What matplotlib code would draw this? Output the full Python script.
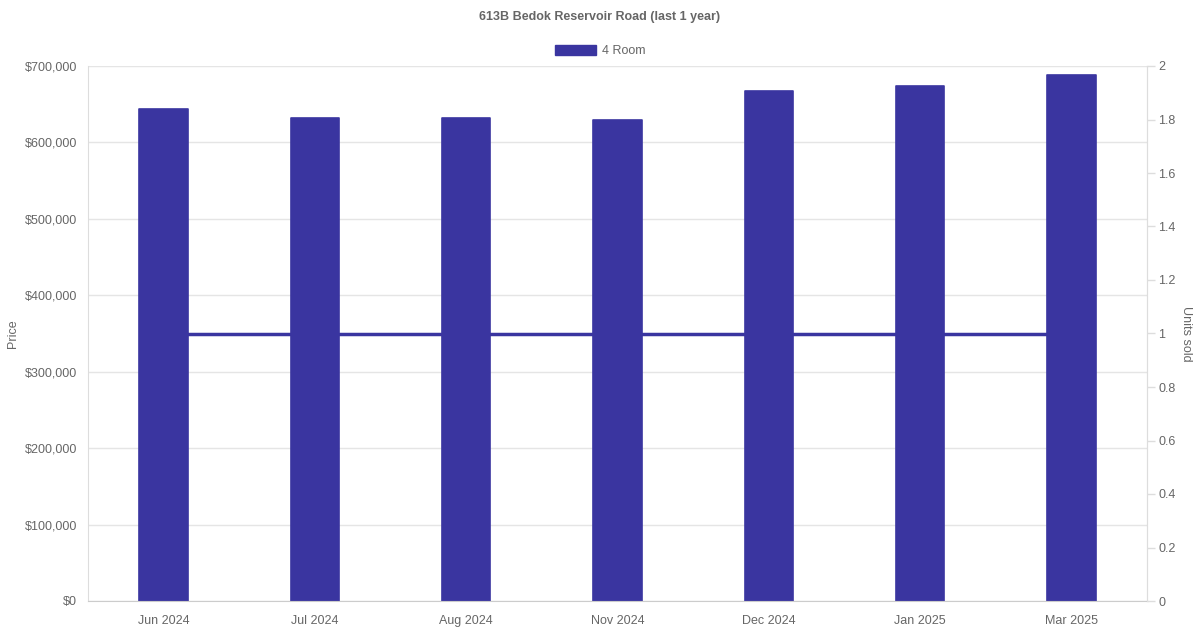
import matplotlib
matplotlib.use("Agg")
import matplotlib.pyplot as plt
from matplotlib.ticker import FuncFormatter, MultipleLocator
from matplotlib.patches import Patch

plt.rcParams['font.family'] = ['Liberation Sans', 'DejaVu Sans']

months = ["Jun 2024", "Jul 2024", "Aug 2024", "Nov 2024", "Dec 2024", "Jan 2025", "Mar 2025"]
prices = [644000, 632000, 632000, 629000, 667000, 674000, 688000]
units = [1, 1, 1, 1, 1, 1, 1]

color = "#3a35a0"
grey = "#666666"
grid = "#e5e5e5"

fig = plt.figure(figsize=(12, 6.3), dpi=100)
ax = fig.add_axes([88/1200, 1 - 601/630, (1147-88)/1200, (601-66)/630])
x = list(range(len(months)))
ax.bar(x, prices, width=0.32, color=color, edgecolor=color, linewidth=1.2,
       joinstyle='round', zorder=2)
ax.set_xlim(-0.5, len(months) - 0.5)
ax.set_ylim(0, 700000)
ax.yaxis.set_major_locator(MultipleLocator(100000))
ax.yaxis.set_major_formatter(FuncFormatter(lambda v, p: f"${v:,.0f}"))
ax.set_xticks(x)
ax.set_xticklabels(months)
ax.grid(axis='y', color=grid, linewidth=1, zorder=0)
for s in ['top']:
    ax.spines[s].set_visible(False)
for s in ['left', 'right', 'bottom']:
    ax.spines[s].set_color("#dddddd")
ax.spines['bottom'].set_color("#cccccc")
ax.tick_params(axis='y', length=0, pad=8, labelsize=9, colors=grey)
ax.tick_params(axis='x', length=0, pad=10, labelsize=9, colors=grey)
ax.set_ylabel("Price", color=grey, fontsize=9)
ax.yaxis.set_label_coords(-69/1059, 0.5)

ax2 = ax.twinx()
ax2.plot(x, units, color=color, linewidth=2.5, zorder=3)
ax2.set_ylim(0, 2)
ax2.yaxis.set_major_locator(MultipleLocator(0.2))
ax2.yaxis.set_major_formatter(FuncFormatter(lambda v, p: f"{v:g}"))
ax2.tick_params(axis='y', length=6, width=1, color="#dddddd", pad=2, labelsize=9, labelcolor=grey)
for s in ['top', 'left', 'bottom']:
    ax2.spines[s].set_visible(False)
ax2.spines['right'].set_color("#dddddd")
ax2.set_ylabel("Units sold", color=grey, fontsize=9, rotation=270, labelpad=12)

fig.text(0.5, 1 - 17/630, "613B Bedok Reservoir Road (last 1 year)", ha='center', va='center',
         fontsize=9, fontweight='bold', color=grey)
fig.legend(handles=[Patch(facecolor=color, edgecolor=color)], labels=["4 Room"],
           loc='center', bbox_to_anchor=(0.5, 1 - 51/630), frameon=False,
           fontsize=9, labelcolor=grey, handlelength=3.3, handleheight=0.9, handletextpad=0.5)

fig.savefig("out.png", dpi=100)
